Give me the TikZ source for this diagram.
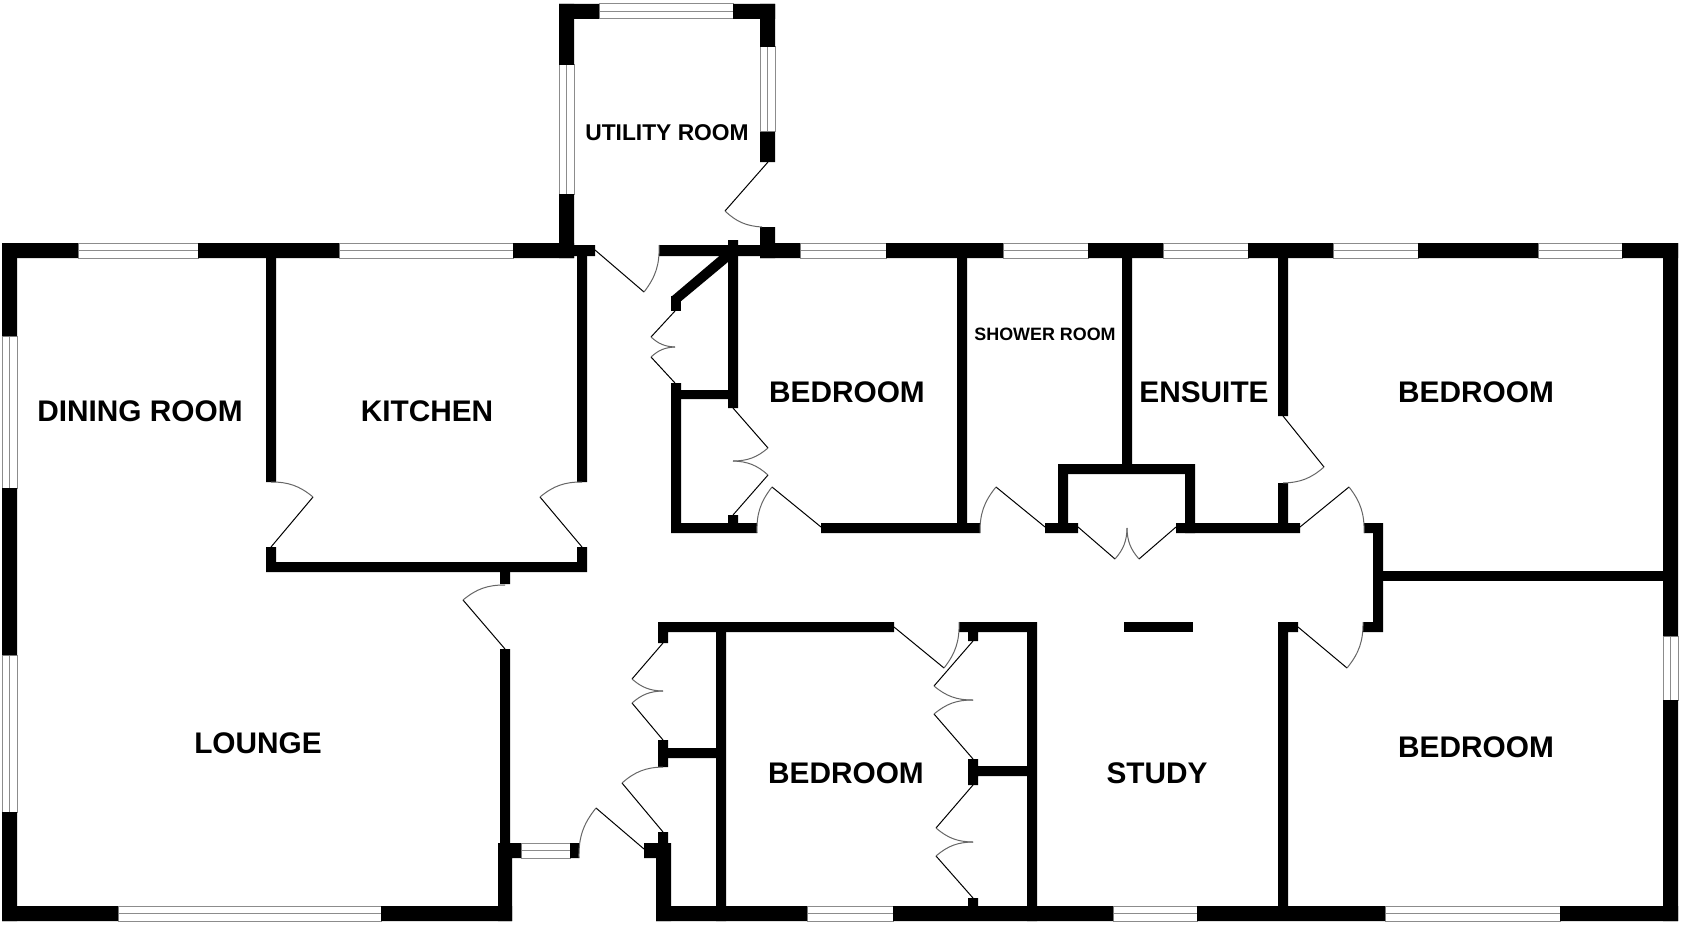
\documentclass[tikz,border=0pt]{standalone}
\usepackage{fontspec}
\setmainfont{Liberation Sans}
\tikzstyle{wall}=[fill=black]
\tikzstyle{pane}=[draw=black!45, fill=white, line width=1pt]
\tikzstyle{leaf}=[draw=black, line width=1pt]
\tikzstyle{swing}=[draw=black!60, line width=1pt]
\tikzstyle{room}=[inner sep=0pt, font=\bfseries\fontsize{29.8}{31}\selectfont]

\begin{document}
\begin{tikzpicture}[x=1pt, y=-1pt]
    \useasboundingbox[fill=white] (0,0) rectangle (1683,931);

    \foreach \xa/\xb/\ya in {78/198/243, 339/513/243, 800/886/243, 1003/1088/243, 1163/1248/243, 1333/1418/243, 1538/1622/243, 599/733/4, 521/570/843, 118/381/906, 807/893/906, 1113/1197/906, 1385/1560/906} {
        \draw[pane] (\xa,\ya) rectangle (\xb,\ya+15);
        \draw[pane] (\xa,\ya+7.5) -- (\xb,\ya+7.5);
    }
    \foreach \ya/\yb/\xa in {336/488/2, 655/812/2, 65/194/559, 47/132/760, 636/700/1663} {
        \draw[pane] (\xa,\ya) rectangle (\xa+15,\yb);
        \draw[pane] (\xa+7.5,\ya) -- (\xa+7.5,\yb);
    }

    \fill[wall] (2,243) rectangle (78,258) (198,243) rectangle (339,258) (513,243) rectangle (574,258);
    \fill[wall] (2,243) rectangle (17,336) (2,488) rectangle (17,655) (2,812) rectangle (17,921);
    \fill[wall] (2,906) rectangle (118,921) (381,906) rectangle (512,921);
    \fill[wall] (656,906) rectangle (807,921) (893,906) rectangle (1113,921) (1197,906) rectangle (1385,921) (1560,906) rectangle (1678,921);
    \fill[wall] (760,243) rectangle (800,258) (886,243) rectangle (1003,258) (1088,243) rectangle (1163,258) (1248,243) rectangle (1333,258) (1418,243) rectangle (1538,258) (1622,243) rectangle (1678,258);
    \fill[wall] (1663,243) rectangle (1678,636) (1663,700) rectangle (1678,921);

    \fill[wall] (559,4) rectangle (599,19) (733,4) rectangle (775,19);
    \fill[wall] (559,4) rectangle (574,65) (559,194) rectangle (574,258);
    \fill[wall] (760,4) rectangle (775,47) (760,132) rectangle (775,162) (760,227) rectangle (775,258);
    \fill[wall] (574,245) rectangle (595,256) (659,245) rectangle (760,256);

    \fill[wall] (266,258) rectangle (276,482) (577,256) rectangle (587,482);
    \fill[wall] (266,562) rectangle (587,572) (266,547) rectangle (276,572) (577,547) rectangle (587,572);
    \fill[wall] (500,572) rectangle (510,584) (500,649) rectangle (510,843);
    \fill[wall] (498,843) rectangle (521,858) (498,843) rectangle (512,921) (570,843) rectangle (579,858);
    \fill[wall] (644,843) rectangle (671,858) (656,843) rectangle (671,921) (658,832) rectangle (668,843);

    \fill[wall] (658,622) rectangle (894,632) (658,622) rectangle (668,643) (658,740) rectangle (668,767);
    \fill[wall] (668,748) rectangle (717,758) (716,622) rectangle (726,921);
    \fill[wall] (959,622) rectangle (1037,632) (1027,622) rectangle (1037,921) (968,632) rectangle (978,641);
    \fill[wall] (968,759) rectangle (978,785) (978,766) rectangle (1027,776) (968,898) rectangle (978,906);
    \fill[wall] (1124,622) rectangle (1193,632);
    \fill[wall] (1278,622) rectangle (1298,632) (1278,622) rectangle (1288,906);
    \fill[wall] (1363,622) rectangle (1383,632) (1373,523) rectangle (1383,632) (1364,523) rectangle (1383,533);
    \fill[wall] (1383,571) rectangle (1663,581);

    \fill[wall] (728,240) rectangle (738,408) (681,390) rectangle (728,399);
    \fill[wall] (737,241) -- (728,262) -- (680,302) -- (671,297) -- cycle;
    \fill[wall] (671,296) rectangle (681,311);
    \fill[wall] (671,383) rectangle (681,533) (671,523) rectangle (757,533) (728,515) rectangle (738,523);
    \fill[wall] (821,523) rectangle (980,533) (957,258) rectangle (967,533);
    \fill[wall] (1045,523) rectangle (1078,533) (1058,464) rectangle (1068,523);
    \fill[wall] (1058,464) rectangle (1195,474) (1185,464) rectangle (1195,533) (1122,258) rectangle (1132,464);
    \fill[wall] (1176,523) rectangle (1300,533) (1278,258) rectangle (1288,416) (1278,483) rectangle (1288,523);

    \foreach \hinge/\tip/\stop/\turn in {
        {271,547}/{313,497}/{271,482}/-20, {582,547}/{540,497}/{582,482}/20,
        {505,649}/{463,600}/{505,585}/20, {644,849}/{596,808}/{579,858}/-20,
        {663,832}/{622,783}/{663,767}/20, {663,643}/{632,679}/{663,691}/-20,
        {663,740}/{632,703}/{663,691}/20, {894,627}/{944,668}/{959,622}/-20,
        {973,641}/{934,686}/{973,700}/-20, {973,759}/{934,714}/{973,700}/20,
        {973,785}/{936,828}/{973,842}/-20, {973,898}/{936,856}/{973,842}/20,
        {675,311}/{651,337}/{675,347}/-20, {675,383}/{651,357}/{675,347}/20,
        {733,408}/{768,448}/{733,461}/20, {733,515}/{768,475}/{733,461}/-20,
        {821,527}/{772,487}/{757,533}/-20, {1045,527}/{996,487}/{980,533}/-20,
        {1078,527}/{1115,559}/{1127,528}/-20, {1176,527}/{1139,559}/{1127,528}/20,
        {1283,416}/{1324,467}/{1283,483}/20, {1300,527}/{1349,487}/{1364,533}/20,
        {1298,627}/{1347,668}/{1363,622}/-20, {768,162}/{725,211}/{762,227}/-20,
        {595,250}/{644,292}/{659,245}/-20} {
        \draw[leaf] (\hinge) -- (\tip);
        \draw[swing] (\tip) to[bend left=\turn] (\stop);
    }

    \node[room] (dining) at (140, 411) {DINING ROOM};
    \node[room] (kitchen) at (427, 411) {KITCHEN};
    \node[room] (lounge) at (258, 743) {LOUNGE};
    \node[room] (bedroomN) at (847, 392) {BEDROOM};
    \node[room] (ensuite) at (1204, 392) {ENSUITE};
    \node[room] (bedroomE) at (1476, 392) {BEDROOM};
    \node[room] (bedroomS) at (846, 773) {BEDROOM};
    \node[room] (study) at (1157, 773) {STUDY};
    \node[room] (bedroomSE) at (1476, 747) {BEDROOM};
    \node[room, font=\bfseries\fontsize{22.8}{24}\selectfont] (utility) at (667, 133) {UTILITY ROOM};
    \node[room, font=\bfseries\fontsize{17.9}{19}\selectfont] (shower) at (1045, 334) {SHOWER ROOM};
\end{tikzpicture}
\end{document}
